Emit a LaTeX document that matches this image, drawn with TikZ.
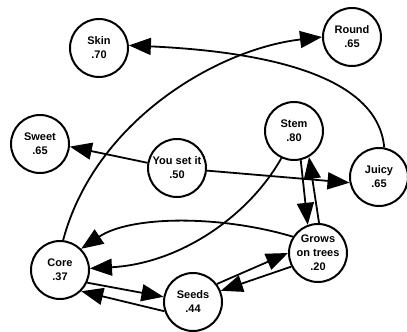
\documentclass[tikz,border=0pt]{standalone}
\usepackage{fontspec}
\setmainfont{Liberation Sans}
\usetikzlibrary{arrows.meta}
\tikzset{
  concept/.style={circle, draw, line width=2pt, minimum size=58pt, inner sep=0pt,
    align=center, font=\bfseries\fontsize{11}{14}\selectfont},
  link/.style={line width=1.8pt, -{Triangle[length=22pt,width=17pt]}},
}
\begin{document}
\begin{tikzpicture}[x=1pt,y=-1pt]
\useasboundingbox (0,0) rectangle (407,332);
\node[concept] (skin)  at (99,48)   {Skin\\.70};
\node[concept] (round) at (352,37)  {Round\\.65};
\node[concept] (sweet) at (40,144)  {Sweet\\.65};
\node[concept] (stem)  at (294,131) {Stem\\.80};
\node[concept] (you)   at (177,168) {You set it\\.50};
\node[concept] (juicy) at (379,177) {Juicy\\.65};
\node[concept] (grows) at (318,253) {Grows\\on trees\\.20};
\node[concept] (core)  at (60,270)  {Core\\.37};
\node[concept] (seeds) at (193,302) {Seeds\\.44};
% long curves
\draw[link] (juicy.80) .. controls +(-6,-67) and +(152,7) .. (skin.5);
\draw[link] (core.84) .. controls +(32,-120) and +(-104,12) .. (round.180);
\draw[link] (stem.-115) .. controls +(-32,57) and +(91,-5) .. (core.3);
\draw[link] (grows.147) .. controls +(-74,-22) and +(49,-33) .. (core.45);
% straight links from the middle node
\draw[link] (you.170) -- (sweet.-5);
\draw[link] (you.-5) -- (juicy.191);
% paired links
\draw[link] (stem.-77) -- (grows.110);
\draw[link] (grows.88) -- (stem.-60);
\draw[link] (core.-25) -- (seeds.170);
\draw[link] (seeds.198) -- (core.-45);
\draw[link] (seeds.37) -- (grows.180);
\draw[link] (grows.207) -- (seeds.22);
\end{tikzpicture}
\end{document}
